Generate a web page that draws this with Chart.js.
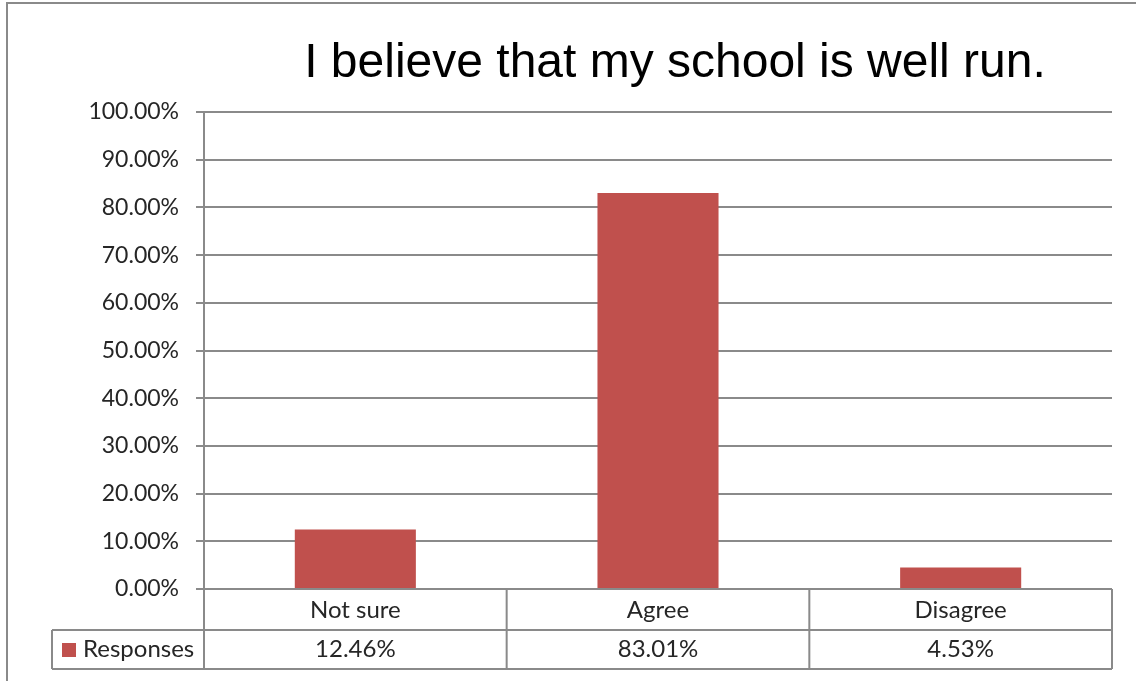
<!DOCTYPE html>
<html>
<head>
<meta charset="utf-8">
<title>I believe that my school is well run.</title>
<script src="https://cdn.jsdelivr.net/npm/chart.js@4/dist/chart.umd.min.js"></script>
<style>
  html, body { margin: 0; padding: 0; background: #fff; }
  #chart { display: block; }
</style>
</head>
<body>
<canvas id="chart" width="1136" height="681"></canvas>
<script>
"use strict";

// Chart data
const chartTitle = 'I believe that my school is well run.';
const seriesName = 'Responses';
const categories = ['Not sure', 'Agree', 'Disagree'];
const responses = [12.46, 83.01, 4.53];
const yTicks = [0, 10, 20, 30, 40, 50, 60, 70, 80, 90, 100];

const barColor = '#C0504D';
const lineColor = '#8a8a8a';
const textColor = '#262626';
const labelFont = 'Lato, "Noto Sans", sans-serif';

// Outer frame and title
const frameAndTitle = {
  id: 'frameAndTitle',
  beforeDraw(chart) {
    const ctx = chart.ctx;
    ctx.save();
    ctx.fillStyle = '#fff';
    ctx.fillRect(0, 0, chart.width, chart.height);
    ctx.strokeStyle = lineColor;
    ctx.lineWidth = 2;
    ctx.beginPath();
    ctx.moveTo(7, chart.height);
    ctx.lineTo(7, 3);
    ctx.lineTo(chart.width, 3);
    ctx.stroke();

    ctx.fillStyle = '#000';
    ctx.font = '48px "Liberation Sans", Arial, sans-serif';
    ctx.textAlign = 'center';
    ctx.textBaseline = 'alphabetic';
    ctx.fillText(chartTitle, 675, 77);
    ctx.restore();
  }
};

// Data table under the plot, built from the x scale
const dataTable = {
  id: 'dataTable',
  afterDraw(chart) {
    const ctx = chart.ctx;
    const x = chart.scales.x;
    const area = chart.chartArea;
    const n = categories.length;
    const colW = (area.right - area.left) / n;
    const top = area.bottom;
    const mid = top + 41;
    const bottom = mid + 39;
    const legendLeft = 52;

    ctx.save();
    ctx.strokeStyle = lineColor;
    ctx.lineWidth = 2;
    ctx.beginPath();
    ctx.moveTo(legendLeft, mid);
    ctx.lineTo(area.right, mid);
    ctx.moveTo(legendLeft, bottom);
    ctx.lineTo(area.right, bottom);
    ctx.moveTo(legendLeft, mid);
    ctx.lineTo(legendLeft, bottom);
    for (let i = 0; i <= n; i++) {
      const xx = area.left + i * colW;
      ctx.moveTo(xx, top);
      ctx.lineTo(xx, bottom);
    }
    ctx.stroke();

    ctx.fillStyle = textColor;
    ctx.font = '24px ' + labelFont;
    ctx.textAlign = 'center';
    ctx.textBaseline = 'middle';
    categories.forEach((c, i) => {
      const cx = x.getPixelForValue(i);
      ctx.fillText(c, cx, (top + mid) / 2 + 1);
      ctx.fillText(responses[i].toFixed(2) + '%', cx, (mid + bottom) / 2);
    });

    // legend key
    ctx.fillStyle = barColor;
    ctx.fillRect(62, 643, 14, 14);
    ctx.fillStyle = textColor;
    ctx.textAlign = 'left';
    ctx.fillText(seriesName, 83, (mid + bottom) / 2);
    ctx.restore();
  }
};

new Chart(document.getElementById('chart'), {
  type: 'bar',
  data: {
    labels: categories,
    datasets: [{
      label: seriesName,
      data: responses,
      backgroundColor: barColor,
      borderWidth: 0,
      barPercentage: 0.4,
      categoryPercentage: 1.0
    }]
  },
  options: {
    responsive: false,
    animation: false,
    devicePixelRatio: 1,
    layout: {
      padding: { top: 112, bottom: 92, left: 0, right: 24 }
    },
    plugins: {
      legend: { display: false },
      title: { display: false },
      tooltip: { enabled: false }
    },
    scales: {
      x: {
        display: false
      },
      y: {
        min: 0,
        max: 100,
        afterBuildTicks: scale => {
          scale.ticks = yTicks.map(v => ({ value: v }));
        },
        afterFit: scale => {
          scale.width = 204;
        },
        ticks: {
          padding: 17,
          color: textColor,
          font: { family: labelFont, size: 23 },
          callback: v => v.toFixed(2) + '%'
        },
        grid: {
          color: lineColor,
          lineWidth: 2,
          tickLength: 8,
          drawTicks: true
        },
        border: {
          display: true,
          color: lineColor,
          width: 2
        }
      }
    }
  },
  plugins: [frameAndTitle, dataTable]
});
</script>
</body>
</html>
